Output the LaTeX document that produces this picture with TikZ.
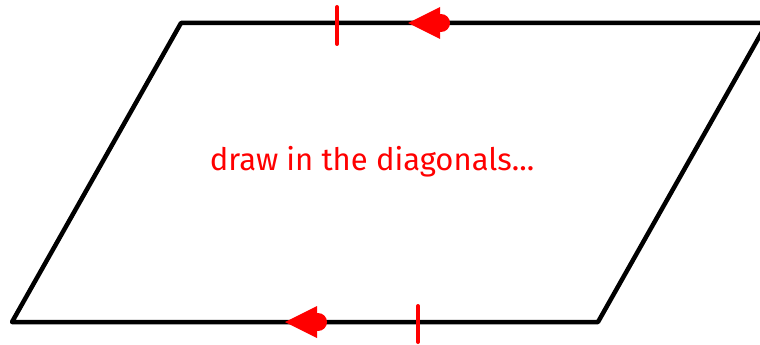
\documentclass[tikz,border=0pt]{standalone}
\usepackage{fontspec}
\setmainfont{Fira Sans}
\usetikzlibrary{arrows.meta, positioning}

\tikzset{
  edge/.style={line width=4.5pt, black, line join=round},
  tick/.style={line width=4pt, red, line cap=round},
  note/.style={red, font=\fontsize{31}{36}\selectfont},
  pointer/.pic={
    \fill[red] (0,0) -- (32,-16) -- (32,16) -- cycle;
    \fill[red] (33,0) circle (9);
  }
}

\begin{document}
\begin{tikzpicture}[x=1pt, y=-1pt]
			\useasboundingbox (0,0) rectangle (760,345);
			\clip (0,0) rectangle (760,345);
			% corners of the parallelogram
			\coordinate (topleft) at (181,23);
			\coordinate (topright) at (767,23);
			\coordinate (botright) at (598,322);
			\coordinate (botleft) at (12,322);
			\draw[edge] (topleft) -- (topright) -- (botright) -- (botleft) -- cycle;
			% equal sides marks
			\draw[tick] (337,7) -- (337,44);
			\draw[tick] (418,306) -- (418,342);
			\pic at (408,23) {pointer};
			\pic at (285,322) {pointer};
			\node[note] (hint) at (372,162) {draw in the diagonals...};
		\end{tikzpicture}
\end{document}
